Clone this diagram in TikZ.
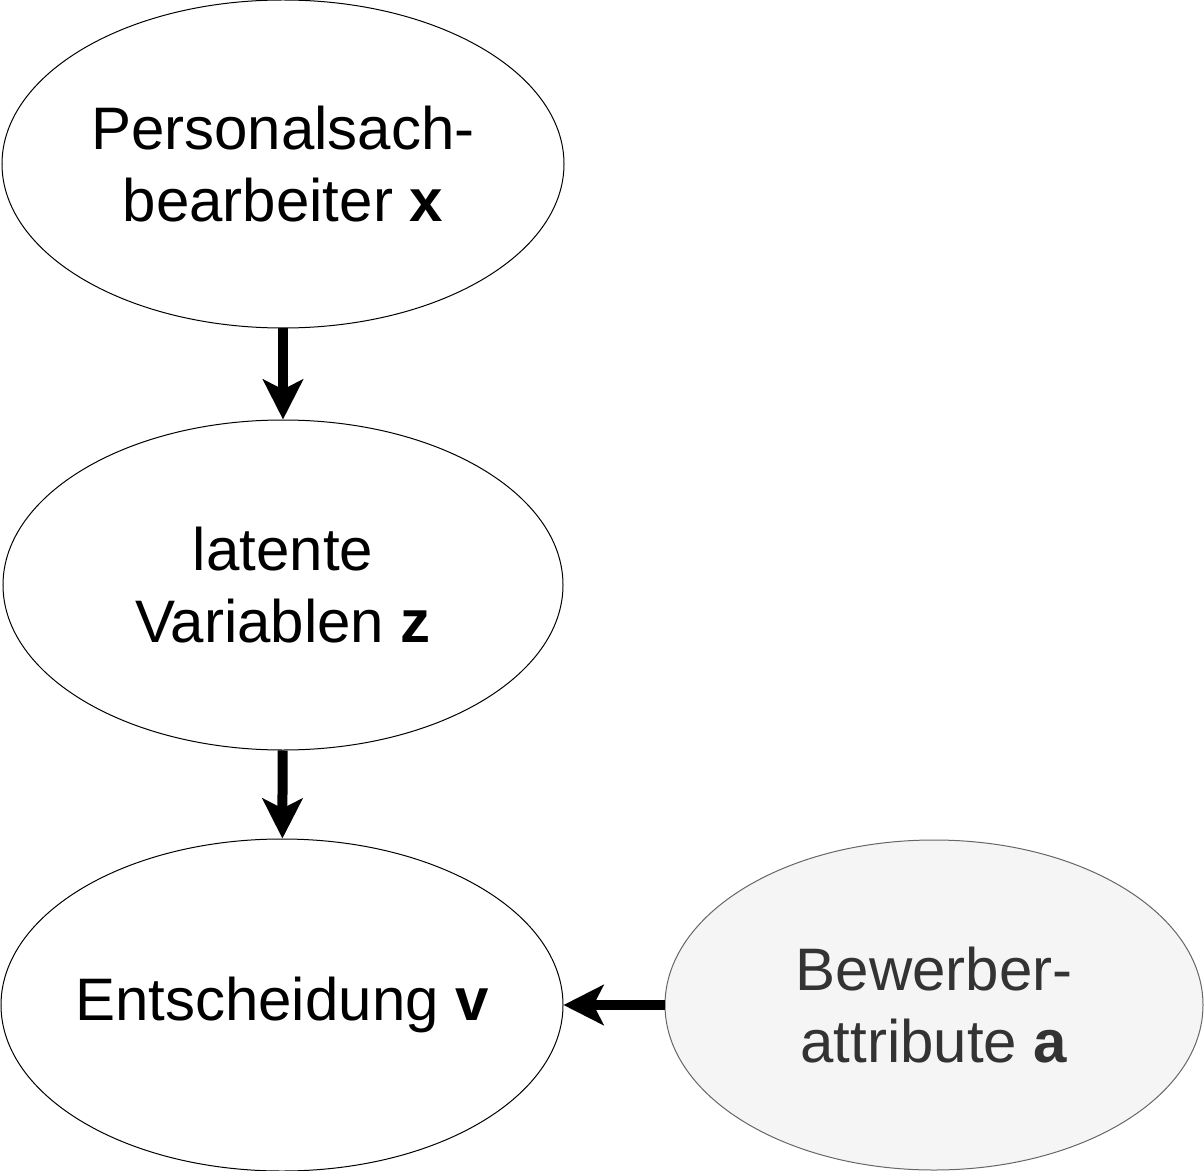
\documentclass[tikz,border=0pt]{standalone}
\usepackage{fontspec}
\setmainfont{Liberation Sans}
\usetikzlibrary{arrows.meta, shapes.geometric}

\begin{document}
\begin{tikzpicture}[x=0.5pt, y=-0.5pt,
		state/.style={ellipse, draw, line width=0.5pt, inner sep=0pt, align=center,
			font=\fontsize{30}{36}\selectfont},
		observed/.style={state, draw=black!60, fill=black!4, text=black!80},
		arr/.style={-{Stealth[length=20pt, width=20pt, inset=5pt]}, line width=5pt}]
		\useasboundingbox (0,0) rectangle (1204,1171);
		
		% Nodes of the model
		\node[state, minimum width=281pt, minimum height=164pt] (px) at (283,164)
			{Personalsach-\\bearbeiter \textbf{x}};
		\node[state, minimum width=280pt, minimum height=165pt] (lv) at (283,585)
			{latente\\Variablen \textbf{z}};
		% wide label: keep the ellipse at its own size
		\node[state, minimum width=281pt, minimum height=166pt] (ent) at (282,1005)
			{\makebox[0pt]{Entscheidung \textbf{v}}};
		\node[observed, minimum width=269pt, minimum height=165pt] (ba) at (934,1005)
			{Bewerber-\\attribute \textbf{a}};
		
		% Dependencies
		\draw[arr] (px) -- (lv);
		\draw[arr] (lv) -- (ent);
		\draw[arr] (ba) -- (ent);
		
	\end{tikzpicture}
\end{document}
